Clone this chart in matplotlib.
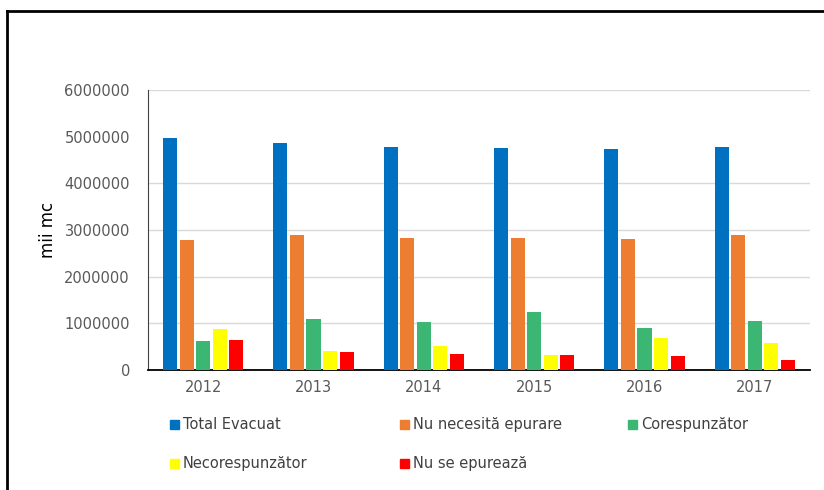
import numpy as np
import matplotlib
matplotlib.use("Agg")
import matplotlib.pyplot as plt
from matplotlib.patches import Rectangle
from matplotlib.lines import Line2D

# data (mii mc)
years = ["2012", "2013", "2014", "2015", "2016", "2017"]
total_evacuat = [4970000, 4860000, 4780000, 4760000, 4730000, 4780000]
nu_necesita = [2790000, 2890000, 2830000, 2830000, 2810000, 2890000]
corespunzator = [620000, 1090000, 1030000, 1240000, 900000, 1050000]
necorespunzator = [880000, 410000, 510000, 320000, 690000, 580000]
nu_se_epureaza = [640000, 390000, 340000, 320000, 300000, 210000]

series = [
    ("Total Evacuat", total_evacuat, "#0070C0"),
    ("Nu necesită epurare", nu_necesita, "#ED7D31"),
    ("Corespunzător", corespunzator, "#3BB673"),
    ("Necorespunzător", necorespunzator, "#FFFF00"),
    ("Nu se epurează", nu_se_epureaza, "#FF0000"),
]

W, H = 824, 490
fig = plt.figure(figsize=(W / 100, H / 100), dpi=100)
ax = fig.add_axes([148 / W, 1 - 370 / H, (810 - 148) / W, (370 - 90) / H])

x = np.arange(len(years))
slot = 0.15
for i, (name, vals, col) in enumerate(series):
    ax.bar(x + (i - 2) * slot, vals, width=0.128, color=col, zorder=3)

ax.set_xlim(-0.5, len(years) - 0.5)
ax.set_ylim(0, 6000000)
ax.set_yticks(np.arange(0, 6000001, 1000000))
ax.set_yticklabels([str(v) for v in range(0, 6000001, 1000000)])
ax.set_xticks(x)
ax.set_xticklabels(years)
ax.tick_params(axis="y", length=0, pad=13, labelsize=10.5, labelcolor="#595959")
ax.tick_params(axis="x", length=0, pad=7, labelsize=10.5, labelcolor="#595959")

# gridlines (the 5000000 line is missing in the original)
for v in [1000000, 2000000, 3000000, 4000000, 6000000]:
    ax.axhline(v, color="#D9D9D9", lw=1, zorder=1)

for s in ["top", "right"]:
    ax.spines[s].set_visible(False)
ax.spines["left"].set_color("#404040")
ax.spines["bottom"].set_color("black")
ax.spines["bottom"].set_linewidth(1.3)

ax.set_ylabel("mii mc", fontsize=12, color="black", labelpad=5)

# legend laid out as in the original (3 + 2 entries)
leg_pos = [(170, 424), (400, 424), (628, 424), (170, 463), (400, 463)]
for (name, vals, col), (lx, ly) in zip(series, leg_pos):
    fig.add_artist(Rectangle((lx / W, 1 - (ly + 4.5) / H), 9 / W, 9 / H,
                             transform=fig.transFigure, color=col))
    fig.text((lx + 13) / W, 1 - ly / H, name, fontsize=10.5, color="#404040",
             va="center", ha="left")

# outer frame (left and top edges)
fig.add_artist(Line2D([7 / W, 7 / W], [0, 1 - 11 / H], transform=fig.transFigure,
                      color="black", lw=2))
fig.add_artist(Line2D([7 / W, 1], [1 - 11 / H, 1 - 11 / H], transform=fig.transFigure,
                      color="black", lw=2))

fig.savefig("out.png", dpi=100)
